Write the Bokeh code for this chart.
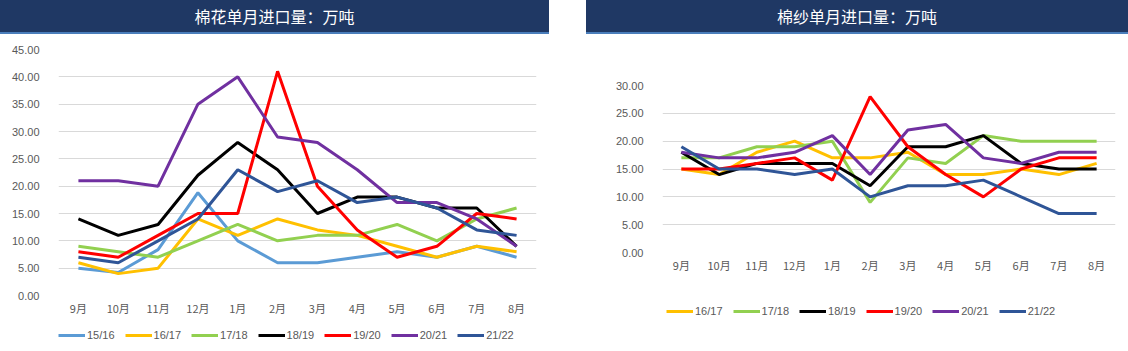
from bokeh.plotting import figure
from bokeh.models import Div, Spacer, Legend, LegendItem, FixedTicker, NumeralTickFormatter
from bokeh.layouts import row, column
from bokeh.embed import file_html
from bokeh.resources import INLINE

months = ["9月", "10月", "11月", "12月", "1月", "2月", "3月", "4月", "5月", "6月", "7月", "8月"]

# 棉花单月进口量（万吨）
cotton_1516 = [5, 4.2, 8.4, 18.8, 10, 6, 6, 7, 8, 7, 9, 7]
cotton_1617 = [6, 4, 5, 14, 11, 14, 12, 11, 9, 7, 9, 8]
cotton_1718 = [9, 8, 7, 10, 13, 10, 11, 11, 13, 10, 14, 16]
cotton_1819 = [14, 11, 13, 22, 28, 23, 15, 18, 18, 16, 16, 9]
cotton_1920 = [8, 7, 11, 15, 15, 41, 20, 12, 7, 9, 15, 14]
cotton_2021 = [21, 21, 20, 35, 40, 29, 28, 23, 17, 17, 14, 9]
cotton_2122 = [7, 6, 10, 14, 23, 19, 21, 17, 18, 16, 12, 11]

# 棉纱单月进口量（万吨）
yarn_1617 = [15, 14, 18, 20, 17, 17, 18, 14, 14, 15, 14, 16]
yarn_1718 = [17, 17, 19, 19, 20, 9, 17, 16, 21, 20, 20, 20]
yarn_1819 = [18, 14, 16, 16, 16, 12, 19, 19, 21, 16, 15, 15]
yarn_1920 = [15, 15, 16, 17, 13, 28, 19, 14, 10, 15, 17, 17]
yarn_2021 = [18, 17, 17, 18, 21, 14, 22, 23, 17, 16, 18, 18]
yarn_2122 = [19, 15, 15, 14, 15, 10, 12, 12, 13, 10, 7, 7]

left_ticks = [0, 5, 10, 15, 20, 25, 30, 35, 40, 45]
right_ticks = [0, 5, 10, 15, 20, 25, 30]

colors = {
    "15/16": "#5B9BD5",
    "16/17": "#FFC000",
    "17/18": "#92D050",
    "18/19": "#000000",
    "19/20": "#FF0000",
    "20/21": "#7030A0",
    "21/22": "#2F5597",
}

FONT = "Noto Sans CJK SC"
NUMFONT = "Liberation Sans"
GRAY = "#595959"


def title_bar(text, width):
    return Div(
        text=text,
        width=width,
        height=34,
        margin=0,
        styles={
            "background-color": "#1F3864",
            "color": "white",
            "text-align": "center",
            "font-size": "16px",
            "line-height": "32px",
            "font-family": FONT,
            "border-bottom": "2px solid #4A7EBB",
            "box-sizing": "border-box",
            "overflow": "hidden",
        },
    )


def make_chart(series, ticks, ymax, width, height, mb_left, mb_right, mb_top, mb_bottom):
    p = figure(
        x_range=months,
        y_range=(0, ymax),
        width=width,
        height=height,
        output_backend="svg",
        toolbar_location=None,
    )
    p.x_range.range_padding = 0
    p.min_border_left = mb_left
    p.min_border_right = mb_right
    p.min_border_top = mb_top
    p.min_border_bottom = mb_bottom
    p.outline_line_color = None
    p.xgrid.grid_line_color = None
    p.ygrid.grid_line_color = "#D9D9D9"
    p.ygrid.grid_line_width = 1
    p.yaxis.ticker = FixedTicker(ticks=ticks)
    p.yaxis.formatter = NumeralTickFormatter(format="0.00")
    for ax in (p.xaxis, p.yaxis):
        ax.axis_line_color = None
        ax.major_tick_line_color = None
        ax.minor_tick_line_color = None
        ax.major_label_text_color = GRAY
        ax.major_label_text_font_size = "11px"
    p.xaxis.major_label_text_font = FONT
    p.yaxis.major_label_text_font = NUMFONT
    p.yaxis.major_label_standoff = 13
    p.xaxis.major_label_standoff = -2
    for name, vals in series:
        p.line(x=months, y=vals, line_color=colors[name], line_width=3)
    return p


def make_legend(series, width, height, mb_left, mb_right, loc):
    # legend-only strip: the same series drawn far outside the visible y range
    q = figure(
        x_range=months,
        y_range=(1000, 1001),
        width=width,
        height=height,
        output_backend="svg",
        toolbar_location=None,
        x_axis_location=None,
        y_axis_location=None,
    )
    q.min_border_left = mb_left
    q.min_border_right = mb_right
    q.min_border_top = 0
    q.min_border_bottom = 0
    q.outline_line_color = None
    q.xgrid.grid_line_color = None
    q.ygrid.grid_line_color = None
    items = []
    for name, vals in series:
        r = q.line(x=months, y=vals, line_color=colors[name], line_width=3)
        items.append(LegendItem(label=name, renderers=[r]))
    legend = Legend(items=items, orientation="horizontal", location=loc)
    legend.glyph_width = 27
    legend.glyph_height = 12
    legend.label_standoff = 2
    legend.spacing = 10
    legend.padding = 0
    legend.margin = 0
    legend.border_line_color = None
    legend.background_fill_alpha = 0
    legend.label_text_font = NUMFONT
    legend.label_text_font_size = "11px"
    legend.label_text_color = GRAY
    legend.label_height = 14
    q.add_layout(legend)
    return q


left_series = [
    ("15/16", cotton_1516),
    ("16/17", cotton_1617),
    ("17/18", cotton_1718),
    ("18/19", cotton_1819),
    ("19/20", cotton_1920),
    ("20/21", cotton_2021),
    ("21/22", cotton_2122),
]
right_series = [
    ("16/17", yarn_1617),
    ("17/18", yarn_1718),
    ("18/19", yarn_1819),
    ("19/20", yarn_1920),
    ("20/21", yarn_2021),
    ("21/22", yarn_2122),
]

p1 = make_chart(left_series, left_ticks, 45, 549, 290, 58, 13, 15, 29)
l1 = make_legend(left_series, 549, 26, 58, 13, (0, 8))
p2 = make_chart(right_series, right_ticks, 30, 542, 250, 76, 13, 51, 32)
l2 = make_legend(right_series, 542, 66, 76, 13, (4, 32))

left = column(title_bar("棉花单月进口量：万吨", 549), p1, l1, spacing=0)
right = column(title_bar("棉纱单月进口量：万吨", 542), p2, l2, spacing=0)
layout = row(left, Spacer(width=37, height=10), right)

open("out.html", "w").write(file_html(layout, INLINE))
